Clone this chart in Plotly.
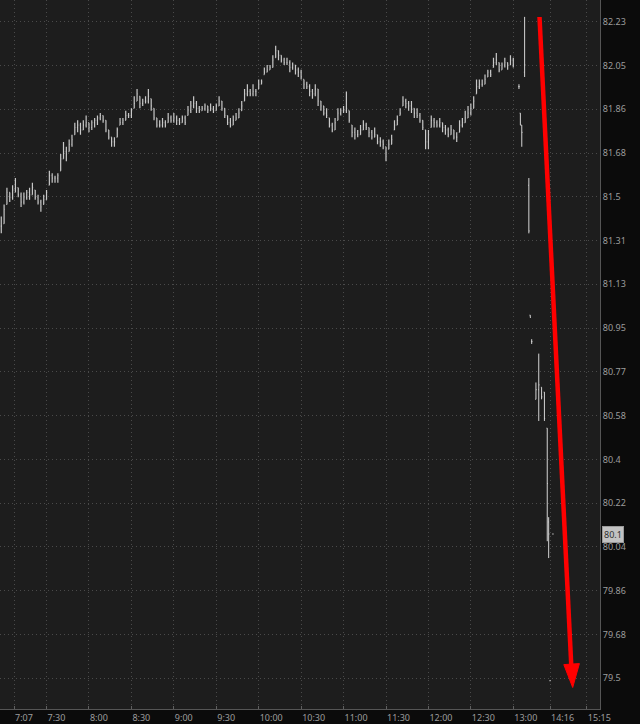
import plotly.graph_objects as go

# ---------------- data ----------------
# regular session: 2-minute bars, minutes after 7:00
main_first_minute = -2
main_step_minutes = 2

main_high = [
    81.42, 81.47, 81.54, 81.52, 81.55, 81.58, 81.54, 81.52, 81.52, 81.53,
    81.54, 81.56, 81.53, 81.51, 81.49, 81.51, 81.53, 81.61, 81.60, 81.59,
    81.60, 81.68, 81.73, 81.71, 81.74, 81.76, 81.81, 81.82, 81.81, 81.82,
    81.84, 81.81, 81.82, 81.83, 81.84, 81.85, 81.84, 81.82, 81.78, 81.75,
    81.75, 81.79, 81.83, 81.83, 81.86, 81.85, 81.87, 81.92, 81.95, 81.92,
    81.91, 81.92, 81.95, 81.91, 81.87, 81.83, 81.82, 81.83, 81.82, 81.85,
    81.84, 81.85, 81.84, 81.83, 81.84, 81.84, 81.88, 81.90, 81.92, 81.90,
    81.88, 81.88, 81.89, 81.88, 81.89, 81.88, 81.89, 81.92, 81.90, 81.87,
    81.84, 81.83, 81.84, 81.85, 81.87, 81.90, 81.95, 81.97, 81.95, 81.97,
    81.95, 81.99, 81.99, 82.04, 82.05, 82.05, 82.09, 82.13, 82.11, 82.09,
    82.08, 82.08, 82.07, 82.06, 82.05, 82.04, 82.03, 81.99, 81.98, 81.97,
    81.95, 81.97, 81.95, 81.90, 81.88, 81.87, 81.83, 81.81, 81.83, 81.87,
    81.87, 81.88, 81.94, 81.86, 81.80, 81.79, 81.78, 81.80, 81.82, 81.81,
    81.79, 81.78, 81.79, 81.76, 81.75, 81.74, 81.71, 81.74, 81.76, 81.82,
    81.84, 81.87, 81.92, 81.91, 81.90, 81.90, 81.87, 81.87, 81.85, 81.82,
    81.78, 81.78, 81.84, 81.83, 81.82, 81.83, 81.81, 81.80, 81.79, 81.80,
    81.78, 81.77, 81.82, 81.83, 81.86, 81.88, 81.89, 81.92, 81.99, 81.99,
    81.99, 82.01, 82.03, 82.03, 82.08, 82.10, 82.06, 82.06, 82.08, 82.06,
    82.09, 82.08,
]
main_low = [
    81.35, 81.39, 81.47, 81.48, 81.49, 81.52, 81.50, 81.46, 81.47, 81.49,
    81.49, 81.51, 81.49, 81.47, 81.44, 81.47, 81.49, 81.55, 81.56, 81.56,
    81.56, 81.61, 81.66, 81.65, 81.69, 81.71, 81.76, 81.77, 81.76, 81.78,
    81.79, 81.77, 81.78, 81.79, 81.80, 81.82, 81.81, 81.77, 81.74, 81.71,
    81.71, 81.75, 81.80, 81.80, 81.82, 81.83, 81.83, 81.87, 81.90, 81.87,
    81.88, 81.89, 81.89, 81.86, 81.82, 81.79, 81.79, 81.79, 81.79, 81.81,
    81.81, 81.81, 81.80, 81.80, 81.81, 81.80, 81.84, 81.85, 81.87, 81.85,
    81.85, 81.86, 81.86, 81.85, 81.86, 81.85, 81.86, 81.88, 81.86, 81.83,
    81.80, 81.79, 81.80, 81.82, 81.83, 81.86, 81.90, 81.92, 81.92, 81.92,
    81.92, 81.95, 81.97, 82.01, 82.02, 82.03, 82.04, 82.08, 82.07, 82.06,
    82.05, 82.05, 82.02, 82.03, 82.01, 82.00, 81.99, 81.95, 81.95, 81.92,
    81.91, 81.92, 81.88, 81.86, 81.84, 81.83, 81.79, 81.77, 81.78, 81.82,
    81.84, 81.85, 81.85, 81.81, 81.75, 81.74, 81.75, 81.76, 81.78, 81.78,
    81.75, 81.74, 81.75, 81.72, 81.71, 81.70, 81.65, 81.70, 81.72, 81.78,
    81.80, 81.84, 81.88, 81.87, 81.86, 81.85, 81.83, 81.83, 81.81, 81.78,
    81.70, 81.70, 81.79, 81.79, 81.79, 81.79, 81.77, 81.76, 81.75, 81.76,
    81.74, 81.73, 81.77, 81.79, 81.81, 81.83, 81.84, 81.87, 81.93, 81.95,
    81.96, 81.97, 82.00, 82.00, 82.04, 82.05, 82.02, 82.03, 82.04, 82.03,
    82.05, 82.04,
]
main_close = [
    81.38, 81.45, 81.52, 81.50, 81.53, 81.54, 81.51, 81.48, 81.50, 81.52,
    81.51, 81.54, 81.50, 81.48, 81.46, 81.49, 81.52, 81.59, 81.58, 81.58,
    81.59, 81.66, 81.69, 81.68, 81.72, 81.74, 81.79, 81.80, 81.78, 81.80,
    81.81, 81.79, 81.81, 81.82, 81.83, 81.84, 81.82, 81.78, 81.75, 81.73,
    81.73, 81.78, 81.81, 81.82, 81.84, 81.84, 81.86, 81.89, 81.93, 81.89,
    81.90, 81.90, 81.92, 81.88, 81.83, 81.80, 81.80, 81.81, 81.80, 81.83,
    81.82, 81.83, 81.82, 81.81, 81.83, 81.81, 81.86, 81.88, 81.89, 81.87,
    81.86, 81.87, 81.88, 81.86, 81.87, 81.86, 81.88, 81.90, 81.87, 81.84,
    81.81, 81.80, 81.82, 81.83, 81.85, 81.88, 81.93, 81.94, 81.93, 81.94,
    81.94, 81.97, 81.98, 82.02, 82.03, 82.04, 82.07, 82.11, 82.09, 82.07,
    82.06, 82.06, 82.04, 82.05, 82.03, 82.02, 82.00, 81.97, 81.96, 81.94,
    81.93, 81.95, 81.90, 81.88, 81.85, 81.84, 81.80, 81.78, 81.81, 81.85,
    81.86, 81.86, 81.87, 81.82, 81.77, 81.76, 81.76, 81.78, 81.80, 81.79,
    81.77, 81.75, 81.76, 81.73, 81.73, 81.72, 81.68, 81.72, 81.74, 81.80,
    81.82, 81.85, 81.90, 81.89, 81.88, 81.87, 81.85, 81.84, 81.82, 81.79,
    81.73, 81.76, 81.82, 81.81, 81.80, 81.81, 81.79, 81.78, 81.76, 81.78,
    81.75, 81.75, 81.80, 81.81, 81.83, 81.85, 81.87, 81.90, 81.96, 81.97,
    81.97, 81.99, 82.02, 82.01, 82.06, 82.07, 82.03, 82.05, 82.06, 82.05,
    82.07, 82.05,
]

# sparse bars after 13:00 (slot positions on the compressed axis)
late_slot = [364, 365, 366, 368, 371, 372, 373, 376, 378, 380, 382, 384, 385, 386, 388]
late_open = [81.96, 81.85, 81.80, 82.02, 81.55, 81.01, 80.90, 80.66, 80.70, 80.71, 80.69, 80.54, 80.15, 79.49, 80.10]
late_high = [81.97, 81.85, 81.80, 82.25, 81.58, 81.01, 80.91, 80.73, 80.85, 80.71, 80.69, 80.54, 80.17, 79.49, 80.10]
late_low = [81.95, 81.80, 81.71, 82.00, 81.35, 81.00, 80.89, 80.66, 80.57, 80.66, 80.57, 80.07, 80.00, 79.49, 80.10]
late_close = [81.96, 81.80, 81.77, 82.05, 81.36, 81.00, 80.90, 80.70, 80.72, 80.67, 80.58, 80.31, 80.10, 79.49, 80.10]

last_price = 80.10
last_price_label = "80.1"

x_tick_slots = [7, 30, 60, 90, 120, 150, 180, 210, 240, 270, 300, 330, 360, 386, 412]
x_tick_labels = ["7:07", "7:30", "8:00", "8:30", "9:00", "9:30", "10:00", "10:30",
                 "11:00", "11:30", "12:00", "12:30", "13:00", "14:16", "15:15"]
y_tick_values = [82.23, 82.048, 81.866, 81.684, 81.502, 81.32, 81.138, 80.956,
                 80.774, 80.592, 80.41, 80.228, 80.046, 79.864, 79.682, 79.5]
y_tick_labels = ["82.23", "82.05", "81.86", "81.68", "81.5", "81.31", "81.13", "80.95",
                 "80.77", "80.58", "80.4", "80.22", "80.04", "79.86", "79.68", "79.5"]

# ---------------- build ----------------
main_x = [main_first_minute + i * main_step_minutes for i in range(len(main_close))]
main_open = []
prev = main_close[0]
for h, l, c in zip(main_high, main_low, main_close):
    main_open.append(min(max(prev, l), h))
    prev = c

BAR = "#c8c8c8"
fig = go.Figure()
fig.add_trace(go.Ohlc(
    x=main_x, open=main_open, high=main_high, low=main_low, close=main_close,
    increasing=dict(line=dict(color=BAR, width=1.2)),
    decreasing=dict(line=dict(color=BAR, width=1.2)),
    tickwidth=0.5, showlegend=False, hoverinfo="skip",
))
fig.add_trace(go.Ohlc(
    x=late_slot, open=late_open, high=late_high, low=late_low, close=late_close,
    increasing=dict(line=dict(color="#d4d4d4", width=1)),
    decreasing=dict(line=dict(color="#d4d4d4", width=1)),
    tickwidth=0.5, showlegend=False, hoverinfo="skip",
))

W_PLOT, H_PLOT = 600.0, 709.0


def px(xp, yp):
    return xp / W_PLOT, 1 - yp / H_PLOT


# red arrow (drawn in pixel space of the plot area)
ax0, ay0 = px(539.5, 17)
ax1, ay1 = px(571.4, 668)
fig.add_shape(type="line", xref="paper", yref="paper", x0=ax0, y0=ay0, x1=ax1, y1=ay1,
              line=dict(color="#ff0000", width=4.5))
p1 = px(563.8, 664.6)
p2 = px(579.4, 663.6)
p3 = px(572.7, 687.5)
fig.add_shape(type="path", xref="paper", yref="paper",
              path=f"M{p1[0]},{p1[1]} L{p2[0]},{p2[1]} L{p3[0]},{p3[1]} Z",
              fillcolor="#ff0000", line=dict(color="#ff0000", width=1))

fig.add_annotation(xref="paper", yref="y", x=1, y=last_price, xanchor="left", xshift=2,
                   text=last_price_label, showarrow=False,
                   font=dict(family="Noto Sans", size=9, color="#303030"),
                   bgcolor="#c2c2c2", bordercolor="#9a9a9a", borderwidth=1, borderpad=1)

FONT = dict(family="Noto Sans", size=9, color="#9c9c9c")
fig.update_layout(
    width=640, height=724,
    margin=dict(l=0, r=40, t=0, b=15),
    paper_bgcolor="#0b0b0b",
    plot_bgcolor="#1d1d1d",
    font=FONT,
    showlegend=False,
    xaxis=dict(
        range=[-2.9, 421.3], tickmode="array", tickvals=x_tick_slots, ticktext=x_tick_labels,
        showgrid=True, gridcolor="#4a4a4a", griddash="1px,3px", gridwidth=1,
        showline=True, linecolor="#555555", linewidth=1,
        ticks="inside", ticklen=3, tickcolor="#606060",
        ticklabelposition="outside right", zeroline=False,
        rangeslider=dict(visible=False), fixedrange=True,
        tickfont=FONT,
    ),
    yaxis=dict(
        range=[79.3724, 82.3202], side="right", tickmode="array",
        tickvals=y_tick_values, ticktext=y_tick_labels,
        showgrid=True, gridcolor="#4a4a4a", griddash="1px,3px", gridwidth=1,
        showline=True, linecolor="#555555", linewidth=1,
        ticks="", zeroline=False, fixedrange=True, tickfont=FONT,
    ),
)

fig.write_html(
    "out.html",
    config={"displayModeBar": False},
    post_script="document.body.style.margin='0';document.body.style.background='#0b0b0b';",
)
